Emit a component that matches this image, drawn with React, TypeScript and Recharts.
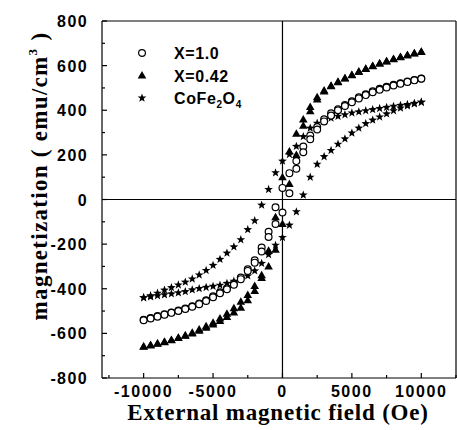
import { ScatterChart, Scatter, XAxis, YAxis, ReferenceLine } from 'recharts';

// field sweep (Oe): down from +10 kOe, then back up
const fieldDown = [10000, 9500, 9000, 8500, 8000, 7500, 7000, 6500, 6000, 5500, 5000, 4500, 4000, 3500, 3000, 2500, 2000, 1500, 1000, 500, 0, -500, -1000, -1500, -2000, -2500, -3000, -3500, -4000, -4500, -5000, -5500, -6000, -6500, -7000, -7500, -8000, -8500, -9000, -9500, -10000];
const fieldUp = [-10000, -9500, -9000, -8500, -8000, -7500, -7000, -6500, -6000, -5500, -5000, -4500, -4000, -3500, -3000, -2500, -2000, -1500, -1000, -500, 0, 500, 1000, 1500, 2000, 2500, 3000, 3500, 4000, 4500, 5000, 5500, 6000, 6500, 7000, 7500, 8000, 8500, 9000, 9500, 10000];

// X=1.0
const x10Down = [542, 536, 529, 521, 514, 505, 496, 485, 472, 458, 440, 424, 405, 386, 360, 325, 287, 237, 172, 118, 52, -35, -145, -215, -272, -313, -350, -377, -398, -416, -434, -452, -466, -478, -489, -498, -506, -514, -522, -531, -539];
const x10Up = [-541, -533, -525, -516, -508, -500, -491, -481, -469, -455, -438, -420, -402, -382, -357, -320, -283, -233, -168, -110, -58, 28, 138, 212, 270, 314, 350, 376, 400, 419, 436, 453, 468, 481, 492, 502, 511, 519, 527, 534, 541];

// X=0.42
const x042Down = [662, 655, 647, 639, 630, 620, 610, 598, 586, 573, 558, 543, 528, 510, 488, 458, 415, 358, 295, 215, 100, -80, -230, -340, -388, -428, -458, -487, -512, -533, -552, -568, -583, -597, -609, -620, -630, -638, -645, -652, -659];
const x042Up = [-660, -654, -647, -640, -631, -621, -611, -600, -588, -575, -560, -544, -527, -507, -485, -452, -410, -352, -300, -225, -110, 70, 200, 330, 395, 448, 484, 508, 526, 542, 557, 572, 585, 597, 609, 619, 629, 638, 646, 654, 661];

// CoFe2O4
const cfoDown = [436, 431, 426, 422, 418, 413, 408, 403, 398, 393, 388, 380, 373, 365, 355, 342, 320, 282, 238, 202, 172, 120, 45, -25, -95, -135, -180, -212, -240, -268, -295, -318, -338, -356, -370, -383, -395, -406, -420, -431, -440];
const cfoUp = [-440, -436, -431, -427, -423, -418, -413, -405, -399, -394, -389, -384, -376, -366, -355, -342, -320, -286, -247, -205, -170, -115, -55, 20, 100, 158, 192, 220, 248, 272, 298, 320, 340, 356, 370, 384, 398, 410, 420, 429, 436];

const xTicks = [-12500, -10000, -7500, -5000, -2500, 0, 2500, 5000, 7500, 10000, 12500];
const xLabels = [-10000, -5000, 0, 5000, 10000];
const yTicks = [-800, -700, -600, -500, -400, -300, -200, -100, 0, 100, 200, 300, 400, 500, 600, 700, 800];
const yLabels = [-800, -600, -400, -200, 0, 200, 400, 600, 800];

const loop = (down: number[], up: number[]) => [
  ...fieldDown.map((h, i) => ({ h, m: down[i] })),
  ...fieldUp.map((h, i) => ({ h, m: up[i] })),
];

const sans = '"Liberation Sans", Arial, sans-serif';
const serif = '"Liberation Serif", "Times New Roman", serif';

const OpenCircle = (p: any) => <circle cx={p.cx} cy={p.cy} r={3.4} fill="#fff" stroke="#000" strokeWidth={1.2} />;
const Triangle = (p: any) => (
  <path d={`M${p.cx},${p.cy - 4.5} L${p.cx + 4.3},${p.cy + 3} L${p.cx - 4.3},${p.cy + 3} Z`} fill="#000" />
);
const starPath = (cx: number, cy: number, R: number, r: number) => {
  let d = '';
  for (let i = 0; i < 10; i++) {
    const a = -Math.PI / 2 + (i * Math.PI) / 5;
    const rad = i % 2 === 0 ? R : r;
    d += `${i === 0 ? 'M' : 'L'}${cx + rad * Math.cos(a)},${cy + rad * Math.sin(a)}`;
  }
  return d + 'Z';
};
const Star = (p: any) => <path d={starPath(p.cx, p.cy, 4.6, 1.9)} fill="#000" />;

const XTick = (p: any) => {
  const major = xLabels.includes(p.payload.value);
  return (
    <g>
      <line x1={p.x} x2={p.x} y1={p.y} y2={p.y - (major ? 5 : 3)} stroke="#000" strokeWidth={1.2} />
      {major && (
        <text x={p.x} y={p.y + 19} textAnchor="middle" fontFamily={sans} fontWeight="bold" fontSize={16} letterSpacing={1.6} fill="#000">
          {p.payload.value}
        </text>
      )}
    </g>
  );
};

const YTick = (p: any) => {
  const major = yLabels.includes(p.payload.value);
  const ax = p.x + 14;
  return (
    <g>
      <line x1={ax} x2={ax + (major ? 5 : 3)} y1={p.y} y2={p.y} stroke="#000" strokeWidth={1.2} />
      {major && (
        <text x={p.x} y={p.y + 6} textAnchor="end" fontFamily={sans} fontWeight="bold" fontSize={16} letterSpacing={1.4} fill="#000">
          {p.payload.value}
        </text>
      )}
    </g>
  );
};

const legendItems = [
  { name: 'X=1.0', Shape: OpenCircle },
  { name: 'X=0.42', Shape: Triangle },
  { name: 'CoFe2O4', Shape: Star },
];

const LegendBox = () => (
  <svg width={160} height={70} style={{ position: 'absolute', left: 134, top: 41 }}>
    {legendItems.map((it, i) => (
      <g key={it.name}>
        <it.Shape cx={8} cy={12 + i * 22.5} />
        <text x={40} y={18 + i * 22.5} fontFamily={sans} fontWeight="bold" fontSize={16} letterSpacing={0.6} fill="#000">
          {i === 2 ? (
            <>
              CoFe<tspan fontSize={10} dy={4}>2</tspan>
              <tspan dy={-4}>O</tspan>
              <tspan fontSize={10} dy={4}>4</tspan>
            </>
          ) : (
            it.name
          )}
        </text>
      </g>
    ))}
  </svg>
);

export default function App() {
  return (
    <div style={{ position: 'absolute', left: 0, top: 0, width: 457, height: 430, background: '#fff' }}>
      <ScatterChart width={457} height={430} margin={{ top: 21, right: 1, bottom: 0, left: 0 }}>
        <XAxis
          type="number"
          dataKey="h"
          domain={[-13000, 12500]}
          ticks={xTicks}
          interval={0}
          tickSize={0}
          tickMargin={0}
          tick={<XTick />}
          height={52}
          axisLine={{ stroke: '#000', strokeWidth: 1.2 }}
          label={{
            content: () => (
              <text x={278} y={420} textAnchor="middle" fontFamily={serif} fontWeight="bold" fontSize={23} letterSpacing={0.8} fill="#000">
                External magnetic field (Oe)
              </text>
            ),
          }}
        />
        <YAxis
          type="number"
          dataKey="m"
          domain={[-800, 800]}
          ticks={yTicks}
          interval={0}
          tickSize={0}
          tickMargin={14}
          tick={<YTick />}
          width={102}
          axisLine={{ stroke: '#000', strokeWidth: 1.2 }}
          label={{
            content: () => (
              <text
                transform="translate(47,176) rotate(-90)"
                textAnchor="middle"
                fontFamily={serif}
                fontWeight="bold"
                fontSize={23}
                letterSpacing={1.3}
                fill="#000"
              >
                magnetization ( emu/cm<tspan fontSize={13} dy={-10}>3</tspan>
                <tspan dy={10}>{'  )'}</tspan>
              </text>
            ),
          }}
        />
        <ReferenceLine y={800} stroke="#000" strokeWidth={1.2} />
        <ReferenceLine x={12500} stroke="#000" strokeWidth={1.2} />
        <ReferenceLine y={0} stroke="#000" strokeWidth={1.2} />
        <ReferenceLine x={0} stroke="#000" strokeWidth={1.2} />
        <Scatter name="CoFe2O4" data={loop(cfoDown, cfoUp)} shape={Star} isAnimationActive={false} />
        <Scatter name="X=1.0" data={loop(x10Down, x10Up)} shape={OpenCircle} isAnimationActive={false} />
        <Scatter name="X=0.42" data={loop(x042Down, x042Up)} shape={Triangle} isAnimationActive={false} />
      </ScatterChart>
      <LegendBox />
    </div>
  );
}
